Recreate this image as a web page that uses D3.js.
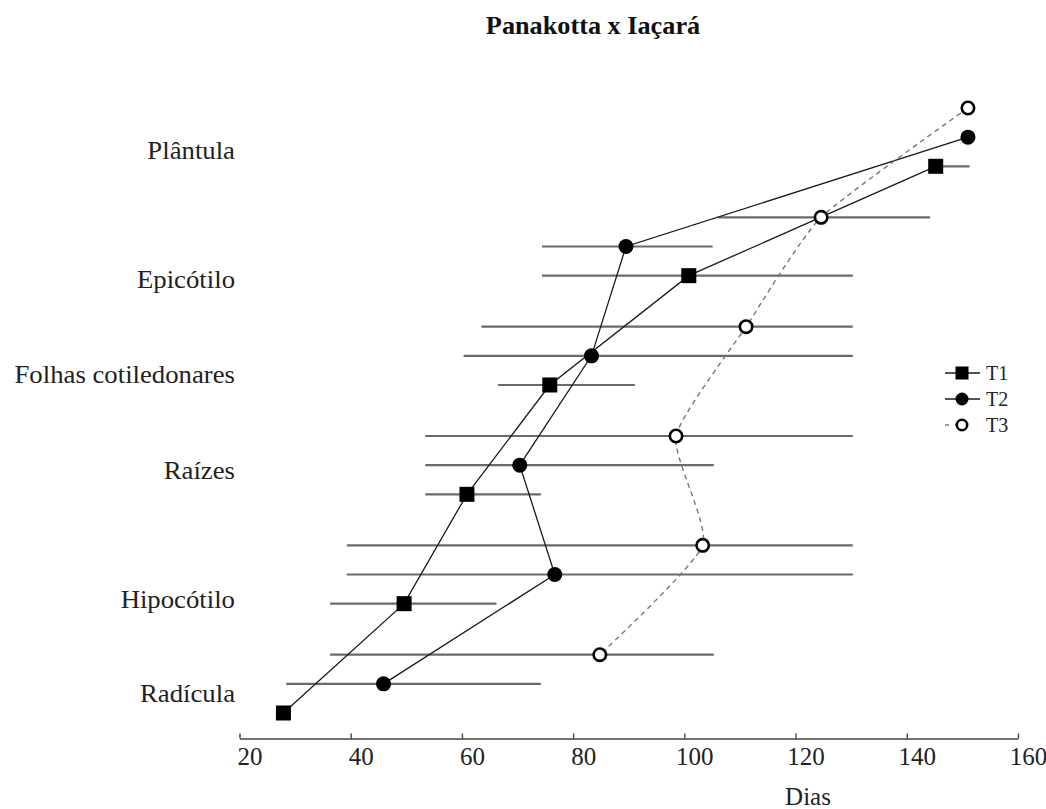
<!DOCTYPE html>
<html>
<head>
<meta charset="utf-8">
<script src="https://cdn.jsdelivr.net/npm/d3@7"></script>
<style>
  html, body { margin: 0; padding: 0; background: #fff; }
  svg { display: block; font-family: "Liberation Serif", "Times New Roman", serif; }
</style>
</head>
<body>
<svg id="chart" width="1046" height="809"></svg>
<script>
// ---- data ----
const categories = ["Plântula", "Epicótilo", "Folhas cotiledonares", "Raízes", "Hipocótilo", "Radícula"];
const labelRows = [1.44, 5.86, 9.12, 12.41, 16.84, 20.06];
const seriesNames = ["T1", "T2", "T3"];

const t1 = [145.2, 100.8, 75.8, 60.9, 49.6, 27.9];
const t1Lo = [145.2, 74.4, 66.5, 53.4, 36.3, 27.9];
const t1Hi = [151.3, 130.3, 91.1, 74.2, 66.2, 27.9];

const t2 = [151.0, 89.5, 83.3, 70.4, 76.7, 45.9];
const t2Lo = [151.0, 74.4, 60.3, 53.4, 39.3, 28.4];
const t2Hi = [151.0, 105.1, 130.3, 105.3, 130.3, 74.2];

const t3 = [151.0, 124.6, 111.1, 98.5, 103.3, 84.8];
const t3Lo = [151.0, 106.1, 63.5, 53.4, 39.3, 36.3];
const t3Hi = [151.0, 144.2, 130.3, 130.3, 130.3, 105.3];

const xTicks = [20, 40, 60, 80, 100, 120, 140, 160];
const title = "Panakotta x Iaçará";
const xTitle = "Dias";

// ---- layout ----
const svg = d3.select("#chart");
const x = d3.scaleLinear().domain([20, 160]).range([239.5, 1018]);
const groupStep = 3.75;
const y = d3.scaleLinear().domain([0, 20.75]).range([108, 713]);
const rowOf = (g, s) => g * groupStep + s; // s: 0=T3, 1=T2, 2=T1

const series = [
  { name: "T1", vals: t1, lo: t1Lo, hi: t1Hi, off: 2, shape: "square", dashed: false },
  { name: "T2", vals: t2, lo: t2Lo, hi: t2Hi, off: 1, shape: "circle", dashed: false },
  { name: "T3", vals: t3, lo: t3Lo, hi: t3Hi, off: 0, shape: "open", dashed: true }
];

// title
svg.append("text")
  .attr("transform", "translate(593,34) scale(1.05,1)")
  .attr("text-anchor", "middle")
  .attr("font-size", 25).attr("font-weight", "bold").attr("fill", "#111")
  .text(title);

// category labels
svg.append("g").selectAll("text")
  .data(categories)
  .join("text")
  .attr("transform", (d, i) => `translate(235,${y(labelRows[i])}) scale(1.07,1)`)
  .attr("dy", "0.35em")
  .attr("text-anchor", "end")
  .attr("font-size", 25).attr("fill", "#222")
  .text(d => d);

// x axis
const axisY = 738.5;
const axis = svg.append("g")
  .attr("transform", `translate(0,${axisY})`)
  .call(d3.axisBottom(x).tickValues(xTicks).tickSize(-5).tickSizeOuter(0).tickFormat(d3.format("d")));
axis.select(".domain").attr("stroke", "#444").attr("stroke-width", 1.6);
axis.selectAll(".tick line").attr("stroke", "#444").attr("stroke-width", 1.4);
axis.selectAll(".tick text")
  .attr("y", 9).attr("dy", "0.71em").attr("dx", 10)
  .attr("font-size", 25).attr("fill", "#222")
  .attr("font-family", "Liberation Serif, Times New Roman, serif");

svg.append("text")
  .attr("x", 808).attr("y", 805)
  .attr("text-anchor", "middle")
  .attr("font-size", 25).attr("fill", "#222")
  .text(xTitle);

// error bars
const barG = svg.append("g");
series.forEach(s => {
  barG.selectAll(null)
    .data(s.vals.map((v, i) => ({ lo: s.lo[i], hi: s.hi[i], row: rowOf(i, s.off) })))
    .join("line")
    .attr("x1", d => x(d.lo)).attr("x2", d => x(d.hi))
    .attr("y1", d => y(d.row)).attr("y2", d => y(d.row))
    .attr("stroke", "#6a6a6a").attr("stroke-width", 2.2);
});

// connecting lines
const lineG = svg.append("g").attr("fill", "none");
series.forEach(s => {
  const pts = s.vals.map((v, i) => [x(v), y(rowOf(i, s.off))]);
  const gen = d3.line().curve(s.dashed ? d3.curveCardinal.tension(0.45) : d3.curveLinear);
  lineG.append("path")
    .attr("d", gen(pts))
    .attr("stroke", s.dashed ? "#777" : "#1a1a1a")
    .attr("stroke-width", s.dashed ? 1.4 : 1.3)
    .attr("stroke-dasharray", s.dashed ? "5,4" : null);
});

// markers
function drawMarker(g, shape, cx, cy, size) {
  if (shape === "square") {
    g.append("rect")
      .attr("x", cx - size / 2).attr("y", cy - size / 2)
      .attr("width", size).attr("height", size)
      .attr("fill", "#000");
  } else if (shape === "circle") {
    g.append("circle").attr("cx", cx).attr("cy", cy).attr("r", size / 2).attr("fill", "#000");
  } else {
    g.append("circle").attr("cx", cx).attr("cy", cy).attr("r", size / 2 - 1.3)
      .attr("fill", "#fff").attr("stroke", "#000").attr("stroke-width", 2.6);
  }
}
const markG = svg.append("g");
series.forEach(s => {
  s.vals.forEach((v, i) => drawMarker(markG, s.shape, x(v), y(rowOf(i, s.off)), 15));
});

// legend
const legend = svg.append("g");
const legY = d3.scalePoint().domain(seriesNames).range([373, 425]);
series.forEach(s => {
  const ly = legY(s.name);
  legend.append("line")
    .attr("x1", 945).attr("x2", s.dashed ? 962 : 980).attr("y1", ly).attr("y2", ly)
    .attr("stroke", s.dashed ? "#777" : "#1a1a1a").attr("stroke-width", 1.4)
    .attr("stroke-dasharray", s.dashed ? "4,6" : null);
  drawMarker(legend, s.shape, 962, ly, 13);
  legend.append("text")
    .attr("x", 986).attr("y", ly).attr("dy", "0.35em")
    .attr("font-size", 20).attr("fill", "#222")
    .text(s.name);
});
</script>
</body>
</html>
